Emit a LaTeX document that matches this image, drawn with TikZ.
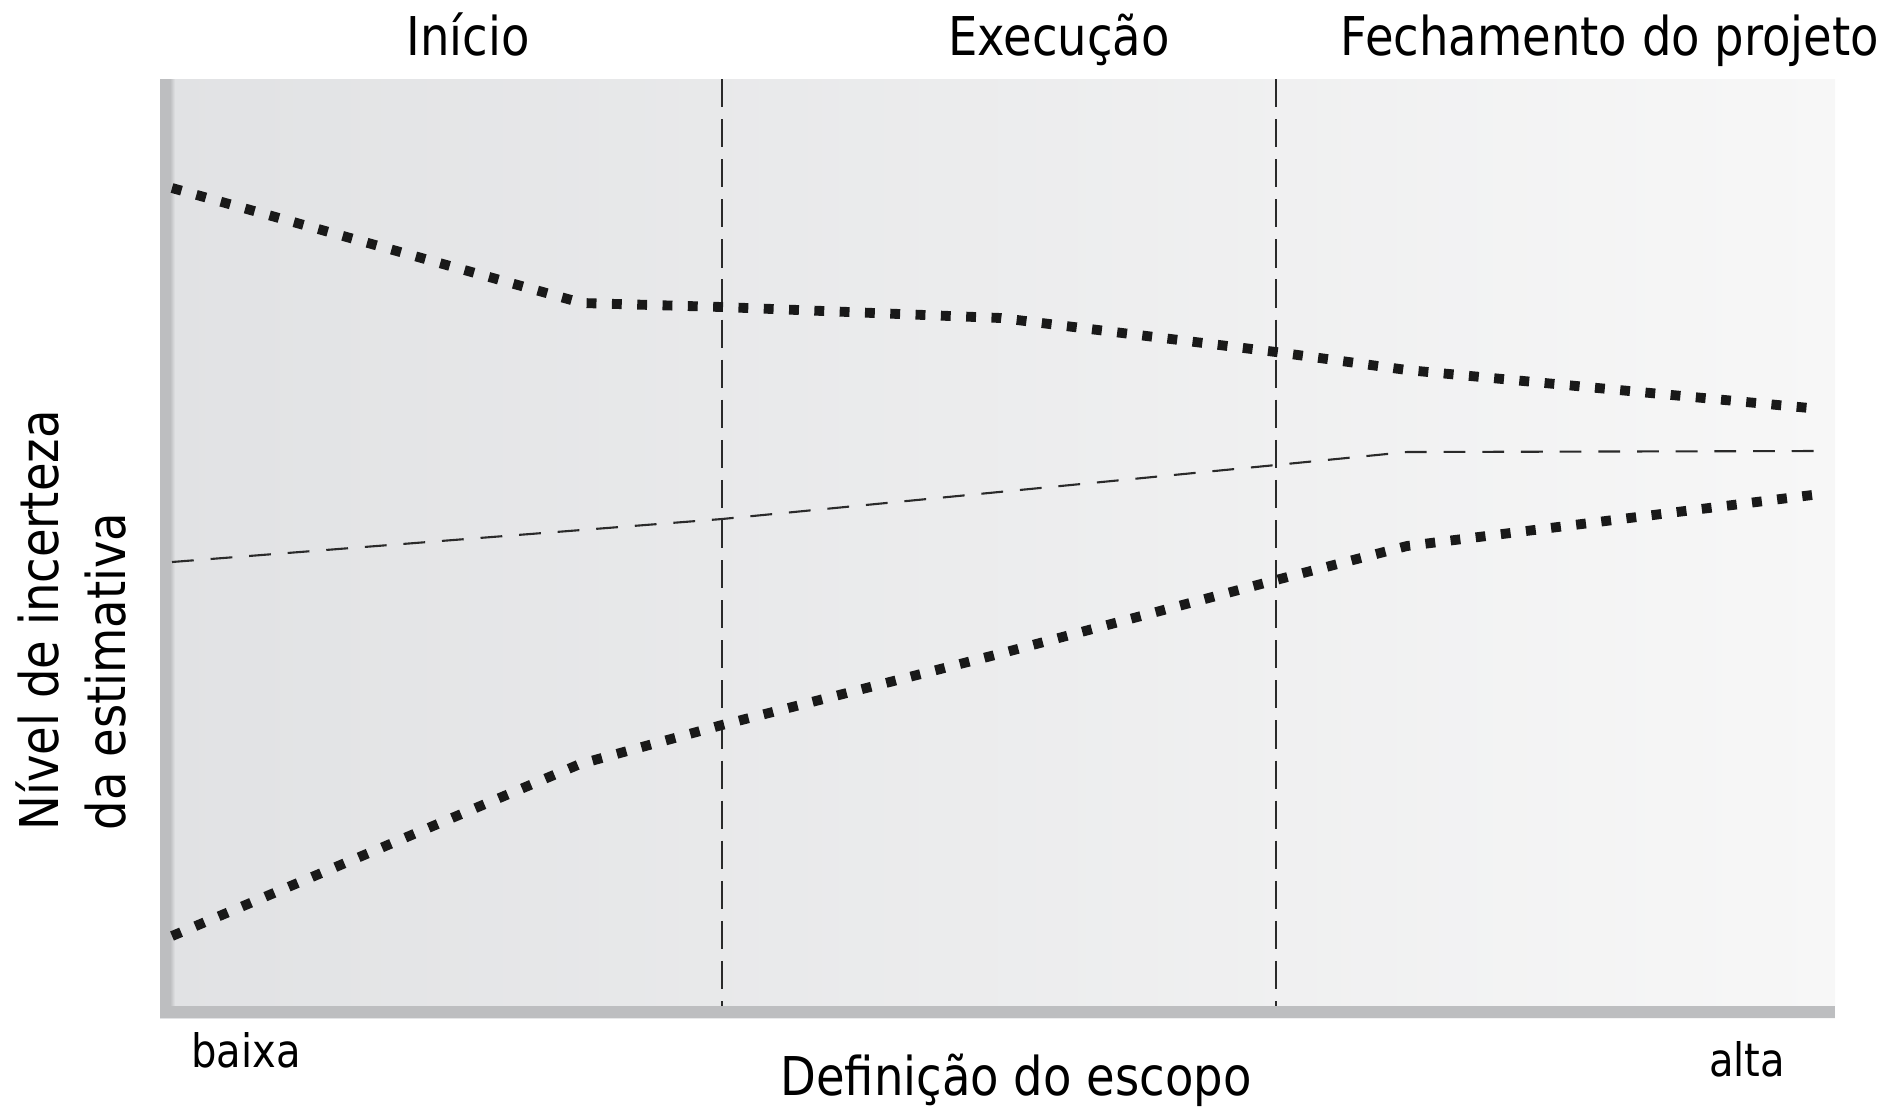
\documentclass[tikz,border=0pt]{standalone}
\usepackage{fontspec}
\setmainfont[FakeStretch=0.87]{DejaVu Sans}

\definecolor{boxleft}{HTML}{E1E2E4}
\definecolor{boxright}{HTML}{F7F7F7}
\definecolor{boxedge}{HTML}{BDBEC0}
\definecolor{inkgray}{HTML}{2A2A2A}

\begin{document}
\begin{tikzpicture}[x=0.01cm, y=-0.01cm,
    bigtext/.style={font=\fontsize{15.2}{18}\selectfont, inner sep=0pt},
    smalltext/.style={font=\fontsize{13.1}{16}\selectfont, inner sep=0pt},
    phaseline/.style={inkgray, line width=0.6pt, dash pattern=on 8pt off 3.4pt},
    midline/.style={inkgray, line width=0.6pt, dash pattern=on 6.2pt off 4.8pt},
    boundline/.style={black!90, line width=2.8pt, dash pattern=on 2.8pt off 4.4pt}]
    \useasboundingbox (0,0) rectangle (1902,1108);

    % fundo do grafico
    \shade[left color=boxleft, right color=boxright] (160,79) rectangle (1835,1018);
    \fill[boxedge] (160,79) rectangle (170,1018);
    \shade[left color=boxedge, right color=boxleft] (170,79) rectangle (175,1006);
    \fill[boxedge] (160,1006) rectangle (1835,1018);

    \draw[phaseline] (722,79) -- (722,1006);
    \draw[phaseline] (1276,79) -- (1276,1006);

    \draw[boundline] (172,188) -- (582,303) -- (722,307) -- (1001,318) -- (1276,352) -- (1407,370) -- (1820,409);
    \draw[midline] (172,562) -- (722,519) -- (1276,465) -- (1407,452) -- (1820,451);
    \draw[boundline] (172,936) -- (580,764) -- (722,725) -- (995,655) -- (1276,580) -- (1407,546) -- (1820,494);

    \node[bigtext, anchor=base] (inicio) at (468,55) {Início};
    \node[bigtext, anchor=base] (execucao) at (1059,55) {Execução};
    \node[bigtext, anchor=base] (fechamento) at (1610,55) {Fechamento do projeto};

    \node[smalltext, anchor=base] (baixa) at (246,1067) {baixa};
    \node[smalltext, anchor=base] (alta) at (1747,1076) {alta};
    \node[bigtext, anchor=base] (escopo) at (1016,1095) {Definição do escopo};

    \node[bigtext, rotate=90, anchor=base west] (nivel) at (58,831) {Nível de incerteza};
    \node[bigtext, rotate=90, anchor=base west] (estimativa) at (125,831) {da estimativa};
\end{tikzpicture}
\end{document}
